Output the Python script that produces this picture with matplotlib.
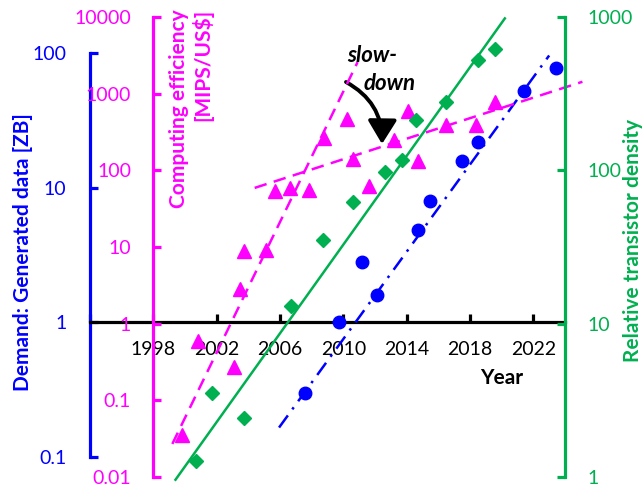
import numpy as np
import matplotlib.pyplot as plt
from matplotlib.ticker import FixedLocator, FuncFormatter, NullLocator

# --- Data ---
years_zb = [2007.6, 2009.7, 2011.2, 2012.1, 2014.7, 2015.5, 2017.5, 2018.5, 2021.4, 2023.4]
data_zb = [0.30, 1.0, 2.8, 1.6, 4.9, 8.0, 15.7, 21.7, 52, 78]

years_mips = [1999.8, 2000.8, 2003.1, 2003.5, 2003.7, 2005.1, 2005.7, 2006.6, 2007.8, 2008.8,
              2010.2, 2010.6, 2011.6, 2013.2, 2014.1, 2014.7, 2016.5, 2018.4, 2019.6]
mips = [0.035, 0.60, 0.275, 2.86, 8.9, 9.2, 54, 59, 56, 266,
        471, 142, 63, 251, 598, 133, 393, 393, 784]

years_tr = [2000.7, 2001.7, 2003.7, 2006.7, 2008.7, 2010.6, 2012.6, 2013.7, 2014.6, 2016.5, 2018.5, 2019.6]
density = [1.28, 3.55, 2.44, 13.1, 35, 62.5, 98, 117, 214, 277, 527, 622]

# trend lines (start/end)
trend_zb_x, trend_zb_y = [2005.94, 2023.0], [0.166, 96]
trend_mips_fast_x, trend_mips_fast_y = [1999.2, 2010.9], [0.027, 2580]
trend_mips_slow_x, trend_mips_slow_y = [2004.4, 2025.1], [59, 1430]
trend_tr_x, trend_tr_y = [1999.4, 2020.2], [0.96, 979]

year_ticks = list(range(1994, 2023, 4))
zb_ticks = [0.1, 1, 10, 100]
mips_ticks = [0.01, 0.1, 1, 10, 100, 1000, 10000]
tr_ticks = [1, 10, 100, 1000]

BLUE = '#0000FF'
MAGENTA = '#FF00FF'
GREEN = '#00B050'

plt.rcParams['font.family'] = ['Lato', 'DejaVu Sans']
W, H = 643, 486
fig = plt.figure(figsize=(W / 100, H / 100), dpi=100)

def px(x, y):
    return x / W, 1 - y / H

# axes box in pixels: x 90..565, y 17..477
ax = fig.add_axes([90 / W, (H - 477) / H, (565 - 90) / W, 460 / H])
ax_m = ax.twinx()
ax_g = ax.twinx()

fmt = FuncFormatter(lambda v, p: f"{v:g}")
LW = 2.3

# --- Blue: generated data ---
ax.set_xlim(1994, 2024)
ax.set_yscale('log')
ax.set_ylim(10 ** -1.147, 10 ** 2.268)
ax.plot(trend_zb_x, trend_zb_y, color=BLUE, lw=1.8, ls=(0, (6, 3, 1, 3)), clip_on=False, zorder=3)
ax.plot(years_zb, data_zb, 'o', color=BLUE, ms=9, clip_on=False, zorder=4)
ax.spines['top'].set_visible(False)
ax.spines['right'].set_visible(False)
ax.spines['left'].set_bounds(0.1, 100)
ax.spines['left'].set_color(BLUE)
ax.spines['left'].set_linewidth(LW)
ax.spines['bottom'].set_position(('data', 1))
ax.spines['bottom'].set_linewidth(LW)
ax.yaxis.set_major_locator(FixedLocator(zb_ticks))
ax.yaxis.set_minor_locator(NullLocator())
ax.yaxis.set_major_formatter(fmt)
ax.tick_params(axis='y', direction='in', length=6, width=LW, color=BLUE, labelcolor=BLUE,
               labelsize=14, pad=17)
ax.set_xticks(year_ticks)
ax.set_xticklabels([''] + [str(y) for y in year_ticks[1:]])
ax.tick_params(axis='x', direction='in', length=6, width=LW, labelsize=14, pad=13)

# --- Magenta: computing efficiency ---
ax_m.set_yscale('log')
ax_m.set_ylim(0.01, 10000)
ax_m.plot(trend_mips_fast_x, trend_mips_fast_y, color=MAGENTA, lw=1.8, ls=(0, (5, 3)), clip_on=False)
ax_m.plot(trend_mips_slow_x, trend_mips_slow_y, color=MAGENTA, lw=1.8, ls=(0, (5, 3)), clip_on=False)
ax_m.plot(years_mips, mips, '^', color=MAGENTA, ms=10, clip_on=False)
for s in ['top', 'right', 'bottom']:
    ax_m.spines[s].set_visible(False)
ax_m.spines['left'].set_visible(True)
ax_m.spines['left'].set_position(('data', 1998))
ax_m.spines['left'].set_color(MAGENTA)
ax_m.spines['left'].set_linewidth(LW)
ax_m.yaxis.tick_left()
ax_m.yaxis.set_major_locator(FixedLocator(mips_ticks))
ax_m.yaxis.set_minor_locator(NullLocator())
ax_m.yaxis.set_major_formatter(fmt)
ax_m.tick_params(axis='y', direction='in', length=6, width=LW, color=MAGENTA, labelcolor=MAGENTA,
                 labelsize=14, pad=16)
for t in ax_m.yaxis.get_major_ticks(len(mips_ticks)):
    if t.get_loc() == 1000:
        t.label1.set_bbox(dict(facecolor='white', edgecolor='none', pad=4))

# --- Green: transistor density ---
ax_g.set_yscale('log')
ax_g.set_ylim(1, 1000)
ax_g.plot(trend_tr_x, trend_tr_y, color=GREEN, lw=1.8, clip_on=False)
ax_g.plot(years_tr, density, 'D', color=GREEN, ms=7, clip_on=False)
for s in ['top', 'left', 'bottom']:
    ax_g.spines[s].set_visible(False)
ax_g.spines['right'].set_color(GREEN)
ax_g.spines['right'].set_linewidth(LW)
ax_g.yaxis.set_major_locator(FixedLocator(tr_ticks))
ax_g.yaxis.set_minor_locator(NullLocator())
ax_g.yaxis.set_major_formatter(fmt)
ax_g.tick_params(axis='y', direction='in', length=6, width=LW, color=GREEN, labelcolor=GREEN,
                 labelsize=14, pad=16)

# --- Labels ---
fig.text(*px(23, 252), "Demand: Generated data [ZB]", rotation=90, color=BLUE, fontsize=15,
         fontweight='bold', ha='center', va='center')
fig.text(*px(191, 9), "Computing efficiency\n[MIPS/US$]", rotation=90, color=MAGENTA, fontsize=15,
         fontweight='bold', ha='center', va='top', multialignment='right', linespacing=1.15)
fig.text(*px(633, 240), "Relative transistor density", rotation=90, color=GREEN, fontsize=15,
         fontweight='bold', ha='center', va='center')
fig.text(*px(502, 378), "Year", fontsize=15, fontweight='bold', ha='center', va='center')

fig.text(*px(372, 56), "slow-", fontsize=16, fontweight='bold', style='italic', ha='center', va='center')
fig.text(*px(390, 83), "down", fontsize=16, fontweight='bold', style='italic', ha='center', va='center')
ax.annotate('', xy=(382, H - 144), xycoords='figure pixels', xytext=(346, H - 82), textcoords='figure pixels',
            arrowprops=dict(arrowstyle='-|>,head_length=0.9,head_width=0.55', mutation_scale=16,
                            lw=2.8, color='black', connectionstyle='arc3,rad=-0.3',
                            shrinkA=0, shrinkB=0))

fig.savefig('out.png', dpi=100)
